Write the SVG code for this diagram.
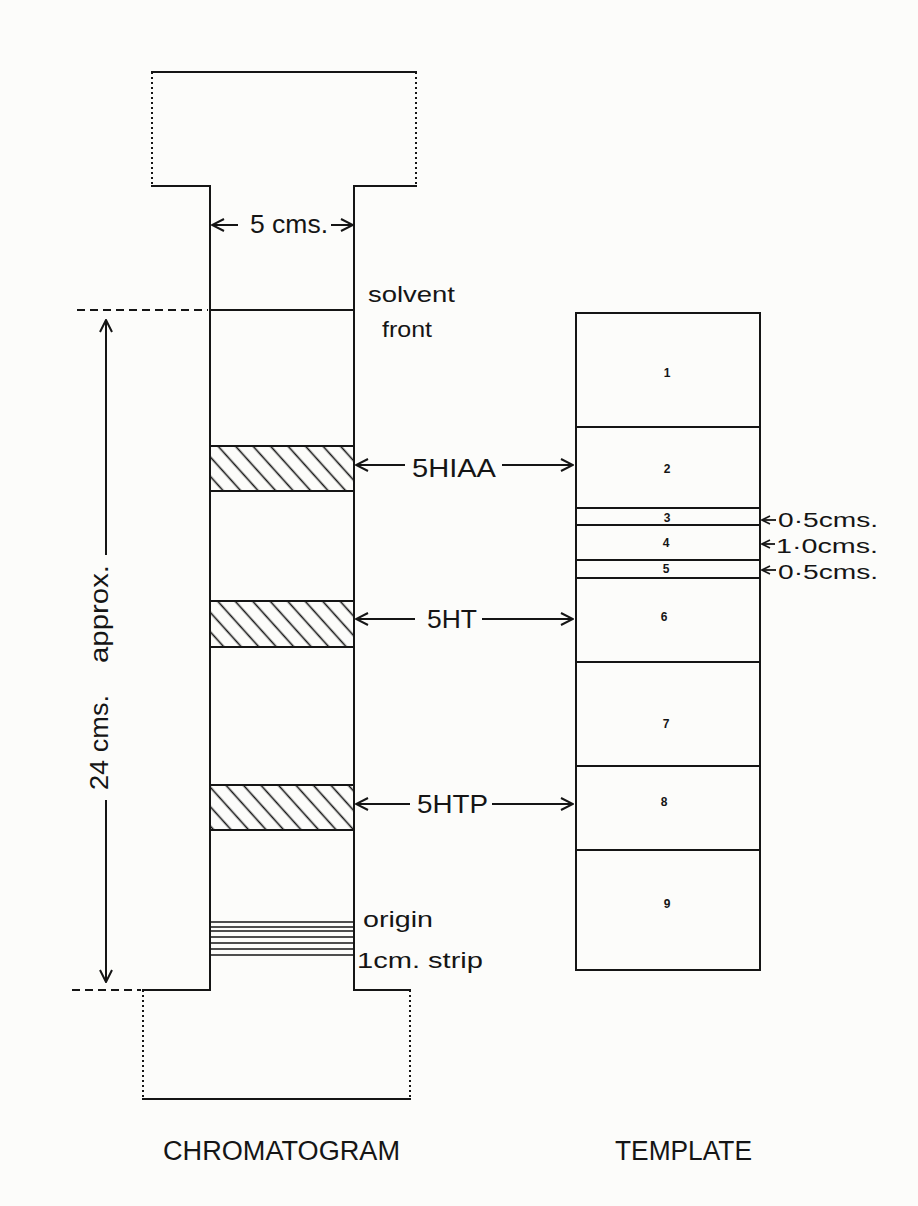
<svg xmlns="http://www.w3.org/2000/svg" width="918" height="1206" viewBox="0 0 918 1206">
<style>
.ln{stroke:#151515;stroke-width:2;fill:none;stroke-linecap:square}
.dot{stroke:#151515;stroke-width:2;fill:none;stroke-dasharray:2 3}
.dash{stroke:#151515;stroke-width:2;fill:none;stroke-dasharray:8 5}
.t{font-family:"Liberation Sans",Arial,sans-serif;fill:#151515}
.lab{font-size:25px}
.sm{font-size:22px}
.num{font-size:12px;font-weight:bold;text-anchor:middle}
.arr{stroke:#151515;stroke-width:2;fill:none;marker-end:url(#ah)}
.arr2{stroke:#151515;stroke-width:1.8;fill:none;marker-end:url(#ahs)}
</style>
<defs>
<marker id="ah" viewBox="0 0 14 14" refX="13" refY="7" markerWidth="14" markerHeight="14" markerUnits="userSpaceOnUse" orient="auto-start-reverse">
<path d="M1,1 L13,7 L1,13" fill="none" stroke="#151515" stroke-width="2"/>
</marker>
<marker id="ahs" viewBox="0 0 10 10" refX="9" refY="5" markerWidth="10" markerHeight="10" markerUnits="userSpaceOnUse" orient="auto-start-reverse">
<path d="M1,1 L9,5 L1,9" fill="none" stroke="#151515" stroke-width="1.6"/>
</marker>
<pattern id="hatch" width="13" height="13" patternUnits="userSpaceOnUse" patternTransform="rotate(-42)">
<line x1="6.5" y1="-1" x2="6.5" y2="14" stroke="#151515" stroke-width="1.6"/>
</pattern>
</defs>
<rect x="0" y="0" width="918" height="1206" fill="#fcfcfa"/>

<g id="chromatogram">
<line class="ln" x1="152" y1="72" x2="416" y2="72"/>
<line class="dot" x1="152" y1="72" x2="152" y2="186"/>
<line class="dot" x1="416" y1="72" x2="416" y2="186"/>
<polyline class="ln" points="152,186 210,186 210,990 143,990"/>
<polyline class="ln" points="416,186 354,186 354,990 410,990"/>
<line class="dot" x1="143" y1="990" x2="143" y2="1099"/>
<line class="dot" x1="410" y1="990" x2="410" y2="1099"/>
<line class="ln" x1="143" y1="1099" x2="410" y2="1099"/>
<line class="ln" x1="210" y1="310" x2="354" y2="310"/>
<rect x="210" y="446" width="144" height="45" fill="url(#hatch)" stroke="#151515" stroke-width="2"/>
<rect x="210" y="601" width="144" height="46" fill="url(#hatch)" stroke="#151515" stroke-width="2"/>
<rect x="210" y="785" width="144" height="45" fill="url(#hatch)" stroke="#151515" stroke-width="2"/>
<g stroke="#151515" stroke-width="1.6">
<line x1="210" y1="922" x2="354" y2="922"/>
<line x1="210" y1="927" x2="354" y2="927"/>
<line x1="210" y1="931" x2="354" y2="931"/>
<line x1="210" y1="937" x2="354" y2="937"/>
<line x1="210" y1="943" x2="354" y2="943"/>
<line x1="210" y1="949" x2="354" y2="949"/>
<line x1="210" y1="955" x2="354" y2="955"/>
</g>
<text class="t sm" x="368" y="302" textLength="87" lengthAdjust="spacingAndGlyphs">solvent</text>
<text class="t sm" x="382" y="337" textLength="50" lengthAdjust="spacingAndGlyphs">front</text>
<text class="t sm" x="363" y="927" textLength="70" lengthAdjust="spacingAndGlyphs">origin</text>
<text class="t sm" x="357" y="968" textLength="126" lengthAdjust="spacingAndGlyphs">1cm. strip</text>
</g>

<g id="template">
<rect x="576" y="313" width="184" height="657" fill="none" stroke="#151515" stroke-width="2"/>
<g stroke="#151515" stroke-width="2">
<line x1="576" y1="427" x2="760" y2="427"/>
<line x1="576" y1="508" x2="760" y2="508"/>
<line x1="576" y1="525" x2="760" y2="525"/>
<line x1="576" y1="560" x2="760" y2="560"/>
<line x1="576" y1="578" x2="760" y2="578"/>
<line x1="576" y1="662" x2="760" y2="662"/>
<line x1="576" y1="766" x2="760" y2="766"/>
<line x1="576" y1="850" x2="760" y2="850"/>
</g>
<text class="t num" x="667" y="377">1</text>
<text class="t num" x="667" y="473">2</text>
<text class="t num" x="667" y="522">3</text>
<text class="t num" x="666" y="547">4</text>
<text class="t num" x="666" y="573">5</text>
<text class="t num" x="664" y="621">6</text>
<text class="t num" x="666" y="728">7</text>
<text class="t num" x="664" y="806">8</text>
<text class="t num" x="667" y="908">9</text>
<text class="t" style="font-size:20px" x="778" y="527" textLength="100" lengthAdjust="spacingAndGlyphs">0·5cms.</text>
<text class="t" style="font-size:20px" x="776" y="553" textLength="102" lengthAdjust="spacingAndGlyphs">1·0cms.</text>
<text class="t" style="font-size:20px" x="778" y="579" textLength="100" lengthAdjust="spacingAndGlyphs">0·5cms.</text>
</g>

<g id="dimension-width">
<text class="t lab" x="250" y="233" textLength="78" lengthAdjust="spacingAndGlyphs">5 cms.</text>
</g>

<g id="dimension-length">
<line class="dash" x1="77" y1="310" x2="208" y2="310"/>
<line class="dash" x1="72" y1="990" x2="141" y2="990"/>
<text class="t lab" transform="translate(108,790) rotate(-90)" textLength="95" lengthAdjust="spacingAndGlyphs">24 cms.</text>
<text class="t lab" transform="translate(108,663) rotate(-90)" textLength="98" lengthAdjust="spacingAndGlyphs">approx.</text>
</g>

<g id="connectors">
<line class="arr" x1="238" y1="225" x2="212" y2="225"/>
<line class="arr" x1="331" y1="225" x2="353" y2="225"/>
<line class="arr" x1="106" y1="555" x2="106" y2="320"/>
<line class="arr" x1="106" y1="800" x2="106" y2="982"/>
<line class="arr" x1="405" y1="465" x2="356" y2="465"/>
<line class="arr" x1="502" y1="465" x2="573" y2="465"/>
<line class="arr" x1="415" y1="619" x2="356" y2="619"/>
<line class="arr" x1="482" y1="619" x2="573" y2="619"/>
<line class="arr" x1="410" y1="804" x2="356" y2="804"/>
<line class="arr" x1="492" y1="804" x2="573" y2="804"/>
<line class="arr2" x1="776" y1="520" x2="762" y2="520"/>
<line class="arr2" x1="775" y1="544" x2="762" y2="544"/>
<line class="arr2" x1="776" y1="570" x2="762" y2="570"/>
</g>

<g id="band-labels">
<text class="t lab" x="412" y="477" textLength="84" lengthAdjust="spacingAndGlyphs">5HIAA</text>
<text class="t lab" x="427" y="628" textLength="50" lengthAdjust="spacingAndGlyphs">5HT</text>
<text class="t lab" x="417" y="813" textLength="71" lengthAdjust="spacingAndGlyphs">5HTP</text>
</g>

<g id="titles">
<text class="t" style="font-size:27px" x="163" y="1160" textLength="237" lengthAdjust="spacingAndGlyphs">CHROMATOGRAM</text>
<text class="t" style="font-size:27px" x="615" y="1160" textLength="137" lengthAdjust="spacingAndGlyphs">TEMPLATE</text>
</g>
</svg>
